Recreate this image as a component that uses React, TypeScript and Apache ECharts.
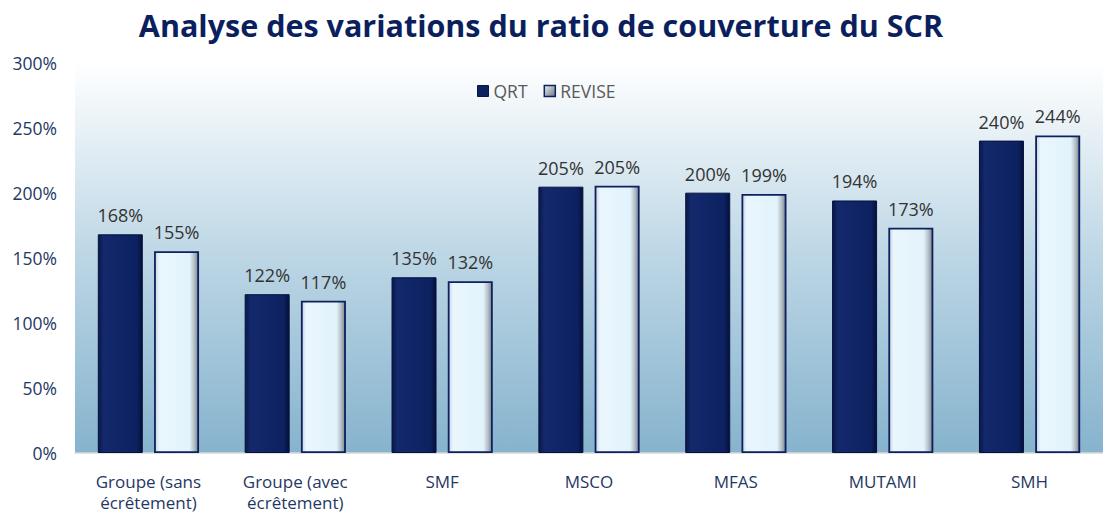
import React, { useEffect, useRef } from "react";
import * as echarts from "echarts";

const categories = [
  "Groupe (sans\nécrêtement)",
  "Groupe (avec\nécrêtement)",
  "SMF",
  "MSCO",
  "MFAS",
  "MUTAMI",
  "SMH",
];
const qrtValues = [168, 122, 135, 204.6, 200, 194, 240];
const reviseValues = [155, 117, 132, 205.4, 199, 173, 244];
const yTicks = [0, 50, 100, 150, 200, 250, 300];

const TITLE = "Analyse des variations du ratio de couverture du SCR";
const FONT = "'Open Sans', 'Noto Sans', sans-serif";

export default function App() {
  const ref = useRef<HTMLDivElement>(null);

  useEffect(() => {
    if (!ref.current) return;
    const chart = echarts.init(ref.current, undefined, { renderer: "svg" });

    const qrtColor = new echarts.graphic.LinearGradient(0, 0, 1, 0, [
      { offset: 0, color: "#081848" },
      { offset: 0.12, color: "#14296c" },
      { offset: 0.5, color: "#0f2566" },
      { offset: 0.88, color: "#0d2160" },
      { offset: 1, color: "#050f38" },
    ]);
    const reviseColor = new echarts.graphic.LinearGradient(0, 0, 1, 0, [
      { offset: 0, color: "#c7d3dc" },
      { offset: 0.1, color: "#eaf6fd" },
      { offset: 0.8, color: "#e2f3fb" },
      { offset: 0.9, color: "#b9c3ca" },
      { offset: 1, color: "#7f888f" },
    ]);
    const legendRevise = new echarts.graphic.LinearGradient(0, 0, 1, 1, [
      { offset: 0, color: "#e8eef3" },
      { offset: 1, color: "#6d7780" },
    ]);

    const labelCommon = {
      show: true,
      position: "top" as const,
      distance: 10,
      color: "#333333",
      fontSize: 18,
      fontFamily: FONT,
      formatter: (p: any) => Math.round(p.value) + "%",
    };

    chart.setOption({
      animation: false,
      backgroundColor: "#ffffff",
      textStyle: { fontFamily: FONT },
      graphic: [
        {
          type: "text",
          x: 541,
          y: 9,
          style: {
            text: TITLE,
            fill: "#0b1f5e",
            font: `bold 30.5px ${FONT}`,
            align: "center",
            verticalAlign: "top",
          },
        },
      ],
      legend: {
        top: 77,
        left: 472,
        itemWidth: 11,
        itemHeight: 11,
        itemGap: 16,
        icon: "rect",
        textStyle: { color: "#595959", fontSize: 17.5, fontFamily: FONT },
        data: [
          { name: "QRT", itemStyle: { color: "#0d2060", borderColor: "#081848", borderWidth: 1 } },
          { name: "REVISE", itemStyle: { color: legendRevise, borderColor: "#0d2060", borderWidth: 1.5 } },
        ],
      },
      grid: {
        left: 75,
        top: 62.5,
        width: 1035,
        height: 390.5,
        show: true,
        borderWidth: 0,
        backgroundColor: new echarts.graphic.LinearGradient(0, 0, 0, 1, [
          { offset: 0, color: "#ffffff" },
          { offset: 0.5, color: "#bcd6e5" },
          { offset: 1, color: "#86b3cd" },
        ]),
      },
      xAxis: {
        type: "category",
        data: categories,
        axisLine: { show: true, lineStyle: { color: "#d9d9d9", width: 1.5 } },
        axisTick: { show: false },
        axisLabel: {
          color: "#1f3864",
          fontSize: 17,
          lineHeight: 21,
          margin: 18,
          fontFamily: FONT,
          interval: 0,
        },
      },
      yAxis: {
        type: "value",
        min: yTicks[0],
        max: yTicks[yTicks.length - 1],
        interval: 50,
        splitLine: { show: false },
        axisLine: { show: false },
        axisTick: { show: false },
        axisLabel: {
          color: "#1f3864",
          fontSize: 17.5,
          margin: 18,
          fontFamily: FONT,
          formatter: (v: number) => v + "%",
        },
      },
      series: [
        {
          name: "QRT",
          type: "bar",
          data: qrtValues,
          barWidth: 45,
          barGap: "25%",
          itemStyle: { color: qrtColor, borderColor: "#06123e", borderWidth: 1 },
          label: labelCommon,
        },
        {
          name: "REVISE",
          type: "bar",
          data: reviseValues,
          barWidth: 45,
          itemStyle: { color: reviseColor, borderColor: "#0d2060", borderWidth: 1.8 },
          label: labelCommon,
        },
      ],
    });

    return () => chart.dispose();
  }, []);

  return (
    <div
      ref={ref}
      style={{ position: "fixed", left: 0, top: 0, width: 1103, height: 513 }}
    />
  );
}
